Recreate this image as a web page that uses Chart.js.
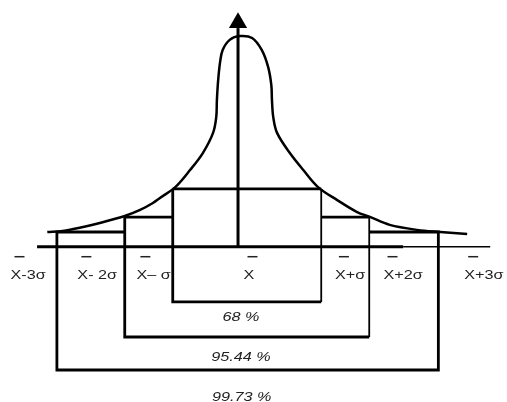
<!DOCTYPE html>
<html>
<head>
<meta charset="utf-8">
<script src="https://cdn.jsdelivr.net/npm/chart.js@4"></script>
<style>
  html, body { margin: 0; padding: 0; background: #fff; }
  canvas { display: block; }
</style>
</head>
<body>
<canvas id="normalChart" width="507" height="402"></canvas>
<script>
  // bell curve, x in sigma-ish units, y normalised to peak = 1
  const curveX = [-3.12, -2.88, -2.56, -2.30, -1.91, -1.67, -1.47, -1.36, -1.12, -0.89, -0.69, -0.53,
    -0.48, -0.47, -0.45, -0.42, -0.38, -0.27, -0.11, 0.08, 0.23, 0.33, 0.38, 0.39, 0.41, 0.47,
    0.67, 0.88, 1.11, 1.41, 1.72, 1.92, 2.23, 2.66, 3.02, 3.44];
  const curveY = [0.070, 0.075, 0.094, 0.113, 0.146, 0.175, 0.208, 0.232, 0.284, 0.365, 0.446, 0.542,
    0.618, 0.699, 0.794, 0.880, 0.937, 0.985, 1.003, 0.994, 0.937, 0.856, 0.770, 0.699, 0.618, 0.542,
    0.446, 0.365, 0.284, 0.222, 0.165, 0.142, 0.104, 0.080, 0.070, 0.060];

  // the three bands (1, 2, 3 sigma)
  const bandLabels = ["68 %", "95.44 %", "99.73 %"];
  const bandLeft = [-1.16, -1.91, -2.97];
  const bandRight = [1.16, 1.91, 2.99];
  const bandTop = [0.275, 0.141, 0.070];
  const bandBottom = [-0.263, -0.430, -0.587];

  // tick labels along the axis
  const tickLabels = ["X-3σ", "X- 2σ", "X– σ", "X", "X+σ", "X+2σ", "X+3σ"];
  const tickPos = [-3.42, -2.34, -1.46, 0.03, 1.61, 2.44, 3.70];

  const meanX = -0.14;
  const arrowTop = 1.041;
  const axisStart = -3.28;
  const axisSplit = 2.44;
  const axisEnd = 3.80;

  function pts(xs, ys) {
    return xs.map((x, i) => ({ x: x, y: ys[i] }));
  }

  // bracket outline for each band
  const bandSets = bandLabels.map((lbl, i) => {
    let xs, ys, thinSeg = -1;
    if (i === 0) {
      xs = [bandLeft[0], bandLeft[0], bandRight[0], bandRight[0], bandLeft[0]];
      ys = [bandTop[0], bandBottom[0], bandBottom[0], bandTop[0], bandTop[0]];
      thinSeg = 2;
    } else {
      xs = [bandLeft[i - 1], bandLeft[i], bandLeft[i], bandRight[i], bandRight[i], bandRight[i - 1]];
      ys = [bandTop[i], bandTop[i], bandBottom[i], bandBottom[i], bandTop[i], bandTop[i]];
      if (i === 1) thinSeg = 3;
    }
    return {
      label: lbl,
      data: pts(xs, ys),
      showLine: true,
      borderColor: "#000",
      borderWidth: 2.8,
      pointRadius: 0,
      tension: 0,
      segment: {
        // right-hand sides of the two inner brackets are drawn thinner
        borderWidth: s => (s.p0DataIndex === thinSeg ? 1.8 : 2.8)
      }
    };
  });

  const labelPlugin = {
    id: "labelPlugin",
    afterDatasetsDraw(chart) {
      const c = chart.ctx;
      const xs = chart.scales.x;
      const ys = chart.scales.y;
      const stretch = 1.35;
      c.save();
      c.fillStyle = "#222";
      c.strokeStyle = "#222";
      c.textBaseline = "middle";
      c.textAlign = "left";

      // tick labels with overbar on X
      c.font = "12px 'Liberation Sans', Arial, sans-serif";
      const tickY = ys.getPixelForValue(0) + 29;
      tickLabels.forEach((t, i) => {
        const w = c.measureText(t).width * stretch;
        const left = xs.getPixelForValue(tickPos[i]) - w / 2;
        c.save();
        c.translate(left, tickY);
        c.scale(stretch, 1);
        c.fillText(t, 0, 0);
        c.restore();
        c.lineWidth = 1.5;
        c.beginPath();
        c.moveTo(left + 4, tickY - 19);
        c.lineTo(left + 14, tickY - 19);
        c.stroke();
      });

      // percentages under each bracket
      c.font = "italic 12px 'Liberation Sans', Arial, sans-serif";
      const gap = [16, 21, 28];
      bandLabels.forEach((t, i) => {
        const w = c.measureText(t).width * stretch;
        const cx = xs.getPixelForValue((bandLeft[i] + bandRight[i]) / 2) - 6;
        const cy = ys.getPixelForValue(bandBottom[i]) + gap[i];
        c.save();
        c.translate(cx - w / 2, cy);
        c.scale(stretch, 1);
        c.fillText(t, 0, 0);
        c.restore();
      });
      c.restore();
    }
  };

  const ctx = document.getElementById("normalChart").getContext("2d");

  const myChart = new Chart(ctx, {
    type: "scatter",
    data: {
      datasets: [
        {
          label: "curve",
          data: pts(curveX, curveY),
          showLine: true,
          borderColor: "#000",
          borderWidth: 2.5,
          pointRadius: 0,
          tension: 0.35
        },
        {
          label: "axis",
          data: pts([axisStart, axisSplit], [0, 0]),
          showLine: true,
          borderColor: "#000",
          borderWidth: 3,
          pointRadius: 0
        },
        {
          label: "axis tail",
          data: pts([axisSplit, axisEnd], [0, 0]),
          showLine: true,
          borderColor: "#000",
          borderWidth: 1.5,
          pointRadius: 0
        },
        {
          label: "mean",
          data: pts([meanX, meanX], [0, arrowTop]),
          showLine: true,
          borderColor: "#000",
          borderWidth: 3,
          pointRadius: 0
        },
        {
          label: "arrow",
          data: pts([meanX], [1.067]),
          showLine: false,
          pointStyle: "triangle",
          pointRadius: 10.5,
          backgroundColor: "#000",
          borderColor: "#000",
          borderWidth: 0
        },
        ...bandSets
      ]
    },
    options: {
      responsive: false,
      animation: false,
      layout: { padding: 0, autoPadding: false },
      plugins: {
        legend: { display: false },
        tooltip: { enabled: false }
      },
      scales: {
        x: { type: "linear", min: -3.859, max: 4.0625, display: false },
        y: { type: "linear", min: -0.7395, max: 1.1748, display: false }
      }
    },
    plugins: [labelPlugin]
  });
</script>
</body>
</html>
